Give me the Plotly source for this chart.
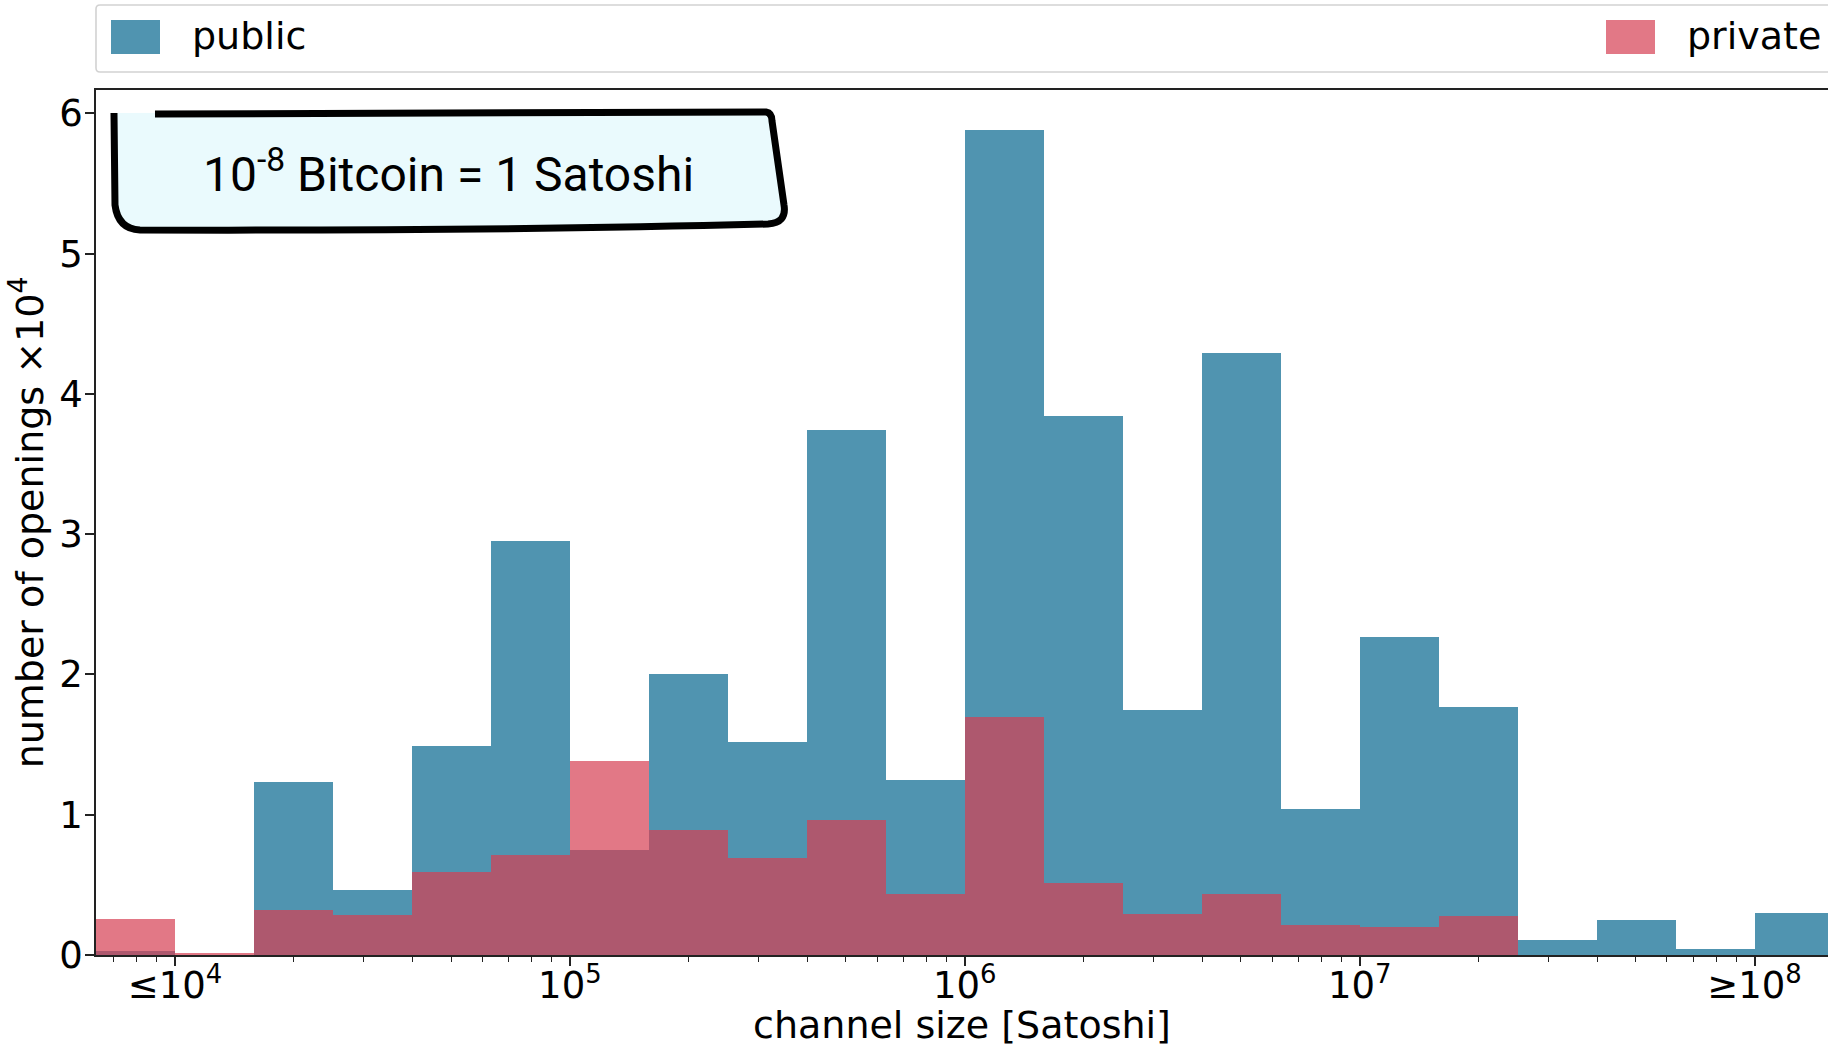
import numpy as np
import plotly.graph_objects as go

# Histogram of channel openings, bins of 0.2 decades in log10(Satoshi)
BIN_LEFT_LOG = [3.8, 4.0, 4.2, 4.4, 4.6, 4.8, 5.0, 5.2, 5.4, 5.6, 5.8,
                6.0, 6.2, 6.4, 6.6, 6.8, 7.0, 7.2, 7.4, 7.6, 7.8, 8.0]
BIN_WIDTH_LOG = 0.2

# Counts in units of 10^4 openings
PUBLIC = [0.03, 0.0, 1.23, 0.46, 1.49, 2.95, 0.75, 2.0, 1.52, 3.74, 1.25,
          5.88, 3.84, 1.75, 4.29, 1.04, 2.27, 1.77, 0.105, 0.25, 0.046, 0.30]
PRIVATE = [0.26, 0.015, 0.32, 0.286, 0.59, 0.714, 1.386, 0.894, 0.69, 0.964, 0.438,
           1.697, 0.512, 0.291, 0.436, 0.217, 0.198, 0.277, 0.0, 0.0, 0.0, 0.0]

X_TICK_VALS = [4, 5, 6, 7, 8]
X_TICK_TEXT = ["≤10<sup>4</sup>", "10<sup>5</sup>", "10<sup>6</sup>",
               "10<sup>7</sup>", "≥10<sup>8</sup>"]
Y_TICK_VALS = [0, 1, 2, 3, 4, 5, 6]

PUBLIC_COLOR = "#5094b0"
PRIVATE_COLOR = "rgba(214,62,82,0.7)"
FONT = "DejaVu Sans"

W, H = 1828, 1047
ML, MR, MT, MB = 96, 0, 90, 92

centers = [b + BIN_WIDTH_LOG / 2 for b in BIN_LEFT_LOG]

# minor ticks at 2..9 x 10^n
minor_vals = [float(np.log10(k * 10.0 ** n)) for n in range(3, 9) for k in range(2, 10)]
minor_vals = [v for v in minor_vals if 3.8 <= v <= 8.19]

fig = go.Figure()
fig.add_trace(go.Bar(x=centers, y=PUBLIC, width=BIN_WIDTH_LOG, name="public",
                     marker=dict(color=PUBLIC_COLOR, line=dict(width=0)),
                     showlegend=False))
fig.add_trace(go.Bar(x=centers, y=PRIVATE, width=BIN_WIDTH_LOG, name="private",
                     marker=dict(color=PRIVATE_COLOR, line=dict(width=0)),
                     showlegend=False))

pw = W - ML - MR
ph = H - MT - MB


def px(x):
    return (x - ML) / pw


def py(y):
    return (H - MB - y) / ph


def path(points_cmds):
    out = []
    for cmd, pts in points_cmds:
        coords = " ".join(f"{px(a):.5f},{py(b):.5f}" for a, b in pts)
        out.append(f"{cmd} {coords}")
    return " ".join(out)


shapes = []

# legend frame
shapes.append(dict(type="path", xref="paper", yref="paper",
                   path=path([("M", [(1850, 5)]), ("L", [(100, 5)]),
                              ("Q", [(96, 5), (96, 9)]), ("L", [(96, 68)]),
                              ("Q", [(96, 72), (100, 72)]), ("L", [(1850, 72)])]),
                   line=dict(color="#d2d2d2", width=1.6), fillcolor="white", layer="above"))
# legend swatches
shapes.append(dict(type="rect", xref="paper", yref="paper",
                   x0=px(111), x1=px(160), y0=py(20), y1=py(54),
                   fillcolor=PUBLIC_COLOR, line=dict(width=0)))
shapes.append(dict(type="rect", xref="paper", yref="paper",
                   x0=px(1606), x1=px(1655), y0=py(20), y1=py(54),
                   fillcolor=PRIVATE_COLOR, line=dict(width=0)))

# hand-drawn note box
box_fill = path([("M", [(113, 113)]), ("L", [(766, 112)]),
                 ("Q", [(772, 113), (772, 121)]), ("L", [(784, 205)]),
                 ("Q", [(787, 223), (768, 224)]), ("Q", [(500, 231), (140, 230)]),
                 ("Q", [(118, 229), (115, 205)])]) + " Z"
shapes.append(dict(type="path", xref="paper", yref="paper", path=box_fill,
                   fillcolor="#eafafd", line=dict(width=0), layer="above"))
box_line = path([("M", [(155, 114)]), ("L", [(766, 112)]),
                 ("Q", [(772, 113), (772, 121)]), ("L", [(784, 205)]),
                 ("Q", [(787, 223), (768, 224)]), ("Q", [(500, 231), (140, 230)]),
                 ("Q", [(118, 229), (115, 205)]), ("L", [(114, 113)])])
shapes.append(dict(type="path", xref="paper", yref="paper", path=box_line,
                   fillcolor="rgba(0,0,0,0)", line=dict(color="black", width=7),
                   layer="above"))

annotations = [
    dict(text="public", xref="paper", yref="paper", x=px(190), y=py(36),
         xanchor="left", yanchor="middle", showarrow=False,
         font=dict(family=FONT, size=38, color="black")),
    dict(text="private", xref="paper", yref="paper", x=px(1685), y=py(36),
         xanchor="left", yanchor="middle", showarrow=False,
         font=dict(family=FONT, size=38, color="black")),
    dict(text="10<sup>-8</sup> Bitcoin = 1 Satoshi", xref="paper", yref="paper",
         x=px(448), y=py(171), xanchor="center", yanchor="middle", showarrow=False,
         font=dict(family="Roboto", size=48, color="black")),
]

fig.update_layout(
    width=W, height=H,
    margin=dict(l=ML, r=MR, t=MT, b=MB),
    barmode="overlay", bargap=0,
    paper_bgcolor="white", plot_bgcolor="white",
    font=dict(family=FONT, size=37, color="black"),
    shapes=shapes, annotations=annotations,
    xaxis=dict(
        range=[3.8, 8.186], tickmode="array", tickvals=X_TICK_VALS, ticktext=X_TICK_TEXT,
        ticks="outside", ticklen=9, tickwidth=1.6, tickcolor="#222",
        showline=True, linecolor="#222", linewidth=1.6, mirror=True,
        showgrid=False, zeroline=False,
        minor=dict(tickmode="array", tickvals=minor_vals, ticks="outside",
                   ticklen=5, tickwidth=1.2, tickcolor="#222", showgrid=False),
        tickfont=dict(family=FONT, size=37),
        ticklabelstandoff=-12,
        title=dict(text="channel size [Satoshi]", font=dict(family=FONT, size=38),
                   standoff=10),
        automargin=False,
    ),
    yaxis=dict(
        range=[0, 6.166], tickmode="array", tickvals=Y_TICK_VALS,
        ticks="outside", ticklen=9, tickwidth=1.6, tickcolor="#222",
        showline=True, linecolor="#222", linewidth=1.6,
        showgrid=False, zeroline=False,
        tickfont=dict(family=FONT, size=37),
        ticklabelstandoff=-5,
        title=dict(text="number of openings ×10<sup>4</sup>",
                   font=dict(family=FONT, size=38), standoff=4),
        automargin=False,
    ),
)

fig.write_html("out.html")
